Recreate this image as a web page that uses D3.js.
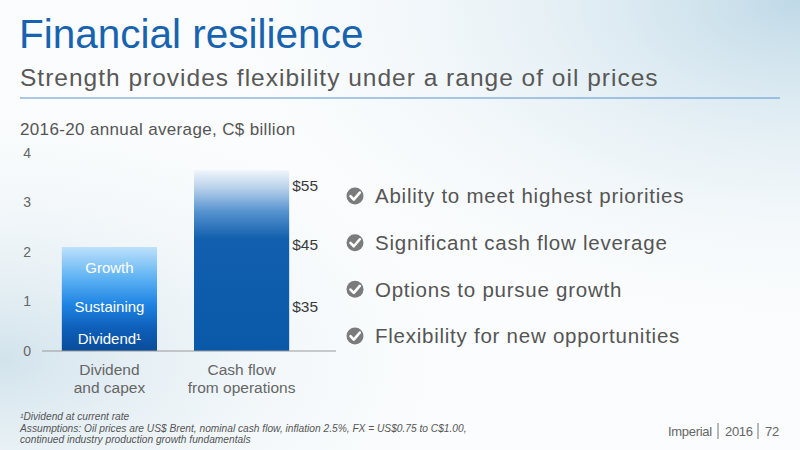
<!DOCTYPE html>
<html>
<head>
<meta charset="utf-8">
<script src="https://cdn.jsdelivr.net/npm/d3@7"></script>
<style>
  body { margin: 0; background: #fff; }
  svg { display: block; font-family: "Liberation Sans", Arial, sans-serif; }
</style>
</head>
<body>
<div id="chart"></div>
<script>
// chart data
const categories = ["Dividend\nand capex", "Cash flow\nfrom operations"];
const values = [2.1, 3.65];
const segmentNames = ["Dividend\u00b9", "Sustaining", "Growth"];
const segmentValues = [0.5, 0.78, 0.82];
const priceLabels = ["$35", "$45", "$55"];
const priceCashFlow = [0.9, 2.15, 3.35];
const yTicks = [0, 1, 2, 3, 4];
const bullets = [
  "Ability to meet highest priorities",
  "Significant cash flow leverage",
  "Options to pursue growth",
  "Flexibility for new opportunities"
];

const width = 800, height = 450;

const svg = d3.select("#chart")
  .append("svg")
    .attr("width", width)
    .attr("height", height);

const defs = svg.append("defs");

// background washes
const bgTR = defs.append("radialGradient").attr("id", "bgTR")
  .attr("cx", 1).attr("cy", 0).attr("r", 0.8);
bgTR.append("stop").attr("offset", 0).attr("stop-color", "#bfd9e7");
bgTR.append("stop").attr("offset", 1).attr("stop-color", "#ffffff").attr("stop-opacity", 0);
const bgBL = defs.append("radialGradient").attr("id", "bgBL")
  .attr("cx", 0).attr("cy", 0.8).attr("r", 0.65);
bgBL.append("stop").attr("offset", 0).attr("stop-color", "#d2e3ec");
bgBL.append("stop").attr("offset", 1).attr("stop-color", "#ffffff").attr("stop-opacity", 0);

svg.append("rect").attr("width", width).attr("height", height).attr("fill", "#fafcfd");
svg.append("rect").attr("width", width).attr("height", height).attr("fill", "url(#bgTR)");
svg.append("rect").attr("width", width).attr("height", height).attr("fill", "url(#bgBL)");

// headings
svg.append("text")
  .attr("x", 19).attr("y", 48)
  .attr("fill", "#1763b0")
  .style("font-size", "40.5px")
  .text("Financial resilience");

svg.append("text")
  .attr("x", 20).attr("y", 86)
  .attr("fill", "#585858")
  .style("font-size", "24.5px")
  .style("letter-spacing", "1px")
  .text("Strength provides flexibility under a range of oil prices");

svg.append("line")
  .attr("x1", 20).attr("x2", 780)
  .attr("y1", 98).attr("y2", 98)
  .attr("stroke", "#5b93cf").attr("stroke-width", 1.2);

svg.append("text")
  .attr("x", 20).attr("y", 135)
  .attr("fill", "#555")
  .style("font-size", "17px")
  .style("letter-spacing", "0.35px")
  .text("2016-20 annual average, C$ billion");

// scales
const x = d3.scaleBand()
  .domain(categories)
  .range([42, 309])
  .paddingInner(0.28)
  .paddingOuter(0.15);

const y = d3.scaleLinear()
  .domain([0, 4])
  .range([351, 153]);

// bar gradients
const g1 = defs.append("linearGradient").attr("id", "grad0")
  .attr("gradientUnits", "userSpaceOnUse")
  .attr("x1", 0).attr("x2", 0)
  .attr("y1", y(values[0])).attr("y2", y(0));
[[0, "#bde1fb"], [0.3, "#5db2f3"], [0.55, "#1f84e3"], [0.78, "#0e5fba"], [1, "#0a4c99"]]
  .forEach(s => g1.append("stop").attr("offset", s[0]).attr("stop-color", s[1]));

const g2 = defs.append("linearGradient").attr("id", "grad1")
  .attr("gradientUnits", "userSpaceOnUse")
  .attr("x1", 0).attr("x2", 0)
  .attr("y1", y(values[1])).attr("y2", y(0));
[[0, "#f0f5fa"], [0.1, "#b6d0ea"], [0.23, "#5592cf"], [0.38, "#115fae"], [1, "#0a58a8"]]
  .forEach(s => g2.append("stop").attr("offset", s[0]).attr("stop-color", s[1]));

const chart = svg.append("g");

// bars
chart.selectAll("rect.bar")
  .data(values)
  .enter()
  .append("rect")
    .attr("class", "bar")
    .attr("x", (d, i) => x(categories[i]))
    .attr("width", x.bandwidth())
    .attr("y", d => y(d))
    .attr("height", d => y(0) - y(d))
    .attr("fill", (d, i) => "url(#grad" + i + ")");

// component labels inside the first bar
const stacked = segmentValues.map((v, i) => {
  const y0 = d3.sum(segmentValues.slice(0, i));
  return { name: segmentNames[i], y0: y0, y1: y0 + v };
});

chart.selectAll("text.seg")
  .data(stacked)
  .enter()
  .append("text")
    .attr("class", "seg")
    .attr("x", x(categories[0]) + x.bandwidth() / 2)
    .attr("y", d => y((d.y0 + d.y1) / 2))
    .attr("dy", "0.35em")
    .attr("text-anchor", "middle")
    .attr("fill", "#fff")
    .style("font-size", "15px")
    .text(d => d.name);

// oil price labels
chart.selectAll("text.price")
  .data(priceLabels)
  .enter()
  .append("text")
    .attr("class", "price")
    .attr("x", x(categories[1]) + x.bandwidth() + 3)
    .attr("y", (d, i) => y(priceCashFlow[i]))
    .attr("dy", "0.35em")
    .attr("fill", "#3a3a3a")
    .style("font-size", "15.5px")
    .text(d => d);

// baseline
chart.append("line")
  .attr("x1", 42).attr("x2", 336)
  .attr("y1", y(0)).attr("y2", y(0))
  .attr("stroke", "#999").attr("stroke-width", 1);

// y axis
const yAxis = svg.append("g")
  .attr("transform", "translate(31,0)")
  .call(d3.axisLeft(y).tickValues(yTicks).tickSize(0).tickPadding(0).tickFormat(d3.format("d")));
yAxis.select(".domain").remove();
yAxis.selectAll("text")
  .attr("fill", "#666")
  .style("font-size", "14px")
  .style("font-family", "Liberation Sans, Arial, sans-serif");

// x axis with two-line labels
const xAxis = svg.append("g")
  .attr("transform", "translate(0," + y(0) + ")")
  .call(d3.axisBottom(x).tickSize(0).tickFormat(""));
xAxis.select(".domain").remove();
xAxis.selectAll(".tick text").remove();
xAxis.selectAll(".tick")
  .append("text")
    .attr("text-anchor", "middle")
    .attr("fill", "#666")
    .style("font-size", "15.5px")
    .style("font-family", "Liberation Sans, Arial, sans-serif")
    .selectAll("tspan")
    .data(d => d.split("\n"))
    .enter()
    .append("tspan")
      .attr("x", 0)
      .attr("y", (d, i) => 24 + i * 18)
      .text(d => d);

// bullets
const by = d3.scalePoint().domain(bullets).range([196, 336]);
const bullet = svg.selectAll("g.bullet")
  .data(bullets)
  .enter()
  .append("g")
    .attr("class", "bullet")
    .attr("transform", d => "translate(355," + by(d) + ")");

bullet.append("circle")
  .attr("r", 8.5)
  .attr("fill", "#7b7b7b");
bullet.append("path")
  .attr("d", "M-4.5,0.2 L-1.2,3.6 L4.8,-3.4")
  .attr("fill", "none")
  .attr("stroke", "#fff")
  .attr("stroke-width", 2.6)
  .attr("stroke-linecap", "round")
  .attr("stroke-linejoin", "round");
bullet.append("text")
  .attr("x", 20)
  .attr("dy", "0.36em")
  .attr("fill", "#555")
  .style("font-size", "20.5px")
  .style("letter-spacing", "0.75px")
  .text(d => d);

// footnotes
const notes = [
  "\u00b9Dividend at current rate",
  "Assumptions: Oil prices are US$ Brent, nominal cash flow, inflation 2.5%, FX = US$0.75 to C$1.00,",
  "continued industry production growth fundamentals"
];
svg.append("g").selectAll("text")
  .data(notes)
  .enter()
  .append("text")
    .attr("x", 20)
    .attr("y", (d, i) => 420 + i * 11.7)
    .attr("fill", "#555")
    .style("font-size", "10.2px")
    .style("font-style", "italic")
    .text(d => d);

// page marker
const footer = svg.append("g")
  .attr("transform", "translate(668,436)")
  .style("font-size", "13px")
  .style("letter-spacing", "-0.3px")
  .attr("fill", "#666");
footer.append("text").attr("x", 0).text("Imperial");
footer.append("line").attr("x1", 50).attr("x2", 50).attr("y1", -13).attr("y2", 3).attr("stroke", "#777");
footer.append("text").attr("x", 57).text("2016");
footer.append("line").attr("x1", 90).attr("x2", 90).attr("y1", -13).attr("y2", 3).attr("stroke", "#777");
footer.append("text").attr("x", 97).text("72");
</script>
</body>
</html>
